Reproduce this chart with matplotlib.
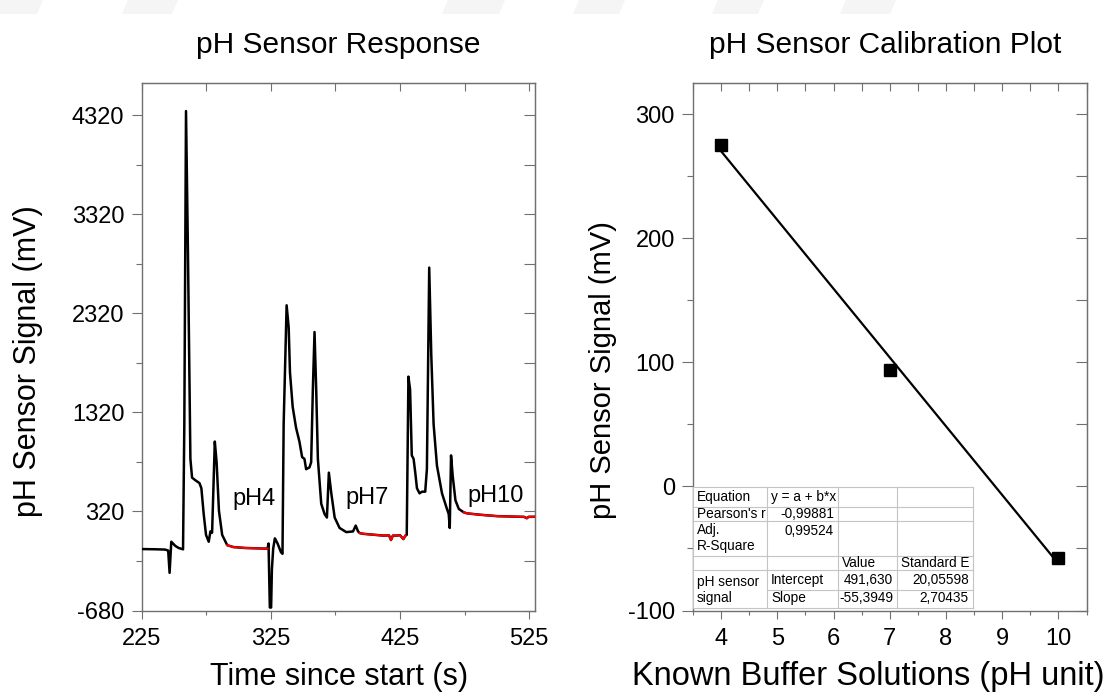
import matplotlib
matplotlib.use("Agg")
import numpy as np
import matplotlib.pyplot as plt
from matplotlib.patches import Rectangle, Polygon
from matplotlib.lines import Line2D

plt.rcParams['font.family'] = ['Liberation Sans', 'DejaVu Sans']
plt.rcParams['axes.unicode_minus'] = False

W, H = 1109, 692

# === Sensor response trace ===
time_s = [225, 235, 243, 245.5, 246.6, 247.9, 251, 253.6, 257, 258, 259.3, 260.8,
          262.7, 264, 266.6, 269.7, 271.2, 273, 274.8, 276.9, 278.2, 279.5, 281.6,
          283, 284.8, 287.3, 291.2, 296, 305, 322.4, 323.2, 324.2, 325.2, 325.8,
          326.8, 328.1, 330.2, 332.8, 334, 334.9, 337.2, 338.8, 339.8, 341.9, 344.5,
          347.1, 349.2, 351, 352.3, 354.9, 356.2, 357.5, 358.8, 360.1, 361.4, 364,
          366.6, 368.4, 369.9, 371.8, 374.4, 378.2, 383.4, 388.6, 390.7, 392.5,
          393.8, 396.4, 412, 416.5, 418, 419.5, 422.4, 425, 427.6, 429.2, 430.2,
          431.5, 432.8, 434.1, 435.5, 436.8, 438.1, 440.1, 442, 444.5, 445.8, 447.6,
          449.2, 451, 453.6, 457.5, 460.9, 462.7, 463.5, 464.5, 465.8, 467.9, 470.5,
          474.4, 477, 487.3, 500.3, 521, 523.2, 524.5, 530]
signal_mv = [-60, -62, -65, -75, -300, 14, -28, -49, -63, 1200, 4360, 2940,
             850, 660, 634, 606, 554, 293, 83, 14, 118, 105, 1025,
             816, 327, 83, -21, -40, -49, -56, -4, -650, -650, -265,
             -56, 48, -4, -91, -108, 1199, 2400, 2176, 1722, 1374, 1164,
             1025, 868, 850, 746, 764, 816, 1548, 2130, 1548, 850, 397,
             293, 258, 711, 502, 258, 153, 111, 118, 177, 118,
             101, 94, 76, 78, 31, 76, 76, 80, 41, 76, 83,
             1680, 1548, 885, 850, 711, 554, 502, 519, 519, 746, 2780,
             1897, 1199, 781, 502, 362, 293, 153, 885, 676, 432, 345,
             310, 300, 286, 272, 265, 251, 265, 266]

# stable windows in each buffer (drawn red)
plateaus = [(291.2, 322.4), (393.8, 429.2), (474.4, 530)]
plateau_names = ["pH4", "pH7", "pH10"]
label_t = [295, 382.5, 477.5]
label_v = [450, 455, 475]

# === Calibration ===
buffer_ph = [4, 7, 10]
buffer_mv = [275, 94, -58]
fit_intercept = 491.630
fit_slope = -55.3949

# fit report table (Origin style)
table_cells = [
    ("Equation", "y = a + b*x", "", ""),
    ("Pearson's r", "-0,99881", "", ""),
    ("Adj.\nR-Square", "0,99524", "", ""),
    ("", "", "Value", "Standard E"),
    ("pH sensor\nsignal", "Intercept", "491,630", "20,05598"),
    ("", "Slope", "-55,3949", "2,70435"),
]

spine_col = "#707070"


def fx(x):
    return x / W


def fy(y):
    return 1 - y / H


def style_axes(ax, xmaj, xmin, ymaj, ymin, ylen):
    for s in ax.spines.values():
        s.set_color(spine_col)
        s.set_linewidth(1.0)
    ax.set_xticks(xmaj)
    ax.set_xticks(xmin, minor=True)
    ax.set_yticks(ymaj)
    ax.set_yticks(ymin, minor=True)
    ax.tick_params(axis="x", which="major", direction="out", length=5.5, width=0.8,
                   color=spine_col, labelsize=17, pad=7)
    ax.tick_params(axis="x", which="minor", direction="out", length=3, width=0.8,
                   color=spine_col)
    ax.tick_params(axis="y", which="major", direction="out", length=ylen, width=0.8,
                   color=spine_col, labelsize=17, pad=5)
    ax.tick_params(axis="y", which="minor", direction="out", length=4, width=0.8,
                   color=spine_col)
    top = ax.secondary_xaxis("top")
    top.set_xticks(xmaj)
    top.set_xticks(xmin, minor=True)
    top.tick_params(which="both", direction="in", length=6, width=0.8,
                    color=spine_col, labeltop=False)
    top.spines["top"].set_color(spine_col)
    right = ax.secondary_yaxis("right")
    right.set_yticks(ymaj)
    right.set_yticks(ymin, minor=True)
    right.tick_params(which="both", direction="in", length=8, width=0.8,
                      color=spine_col, labelright=False)
    right.spines["right"].set_color(spine_col)


fig = plt.figure(figsize=(W / 100, H / 100), dpi=100)

# faint page artefacts at the very top
for x0, x1 in [(0, 43), (128, 178), (448, 505), (579, 625), (718, 764), (846, 896)]:
    fig.add_artist(Polygon([(fx(x0), fy(0)), (fx(x1), fy(0)), (fx(x1 - 6), fy(14)),
                            (fx(x0 - 6), fy(14))], closed=True,
                           transform=fig.transFigure, color="#f5f5f5", lw=0, zorder=0))

# === Left: sensor response ===
ax1 = fig.add_axes([fx(141.7), fy(610.5), fx(535 - 141.7), (610.5 - 83) / H])
t = np.array(time_s)
v = np.array(signal_mv)
ax1.plot(t, v, color="black", lw=1.8, zorder=3)
for (a, b) in plateaus:
    m = (t >= a) & (t <= b)
    ax1.plot(t[m], v[m], color="red", lw=1.5, zorder=4)
for name, lt, lv in zip(plateau_names, label_t, label_v):
    ax1.text(lt, lv, name, fontsize=17, ha="left", va="center")
ax1.set_xlim(225, 529.5)
ax1.set_ylim(-680, 4643)
style_axes(ax1, [225, 325, 425, 525], [275, 375, 475],
           [-680, 320, 1320, 2320, 3320, 4320], [-180, 820, 1820, 2820, 3820], 7.5)

# === Right: calibration ===
ax2 = fig.add_axes([fx(693), fy(610.5), fx(1086.5 - 693), (610.5 - 83) / H])
xf = np.array([buffer_ph[0], buffer_ph[-1]])
ax2.plot(xf, fit_intercept + fit_slope * xf, color="black", lw=1.6, zorder=3)
ax2.plot(buffer_ph, buffer_mv, ls="none", marker="s", ms=8, color="black", zorder=4)
ax2.set_xlim(3.5, 10.5)
ax2.set_ylim(-100, 325)
style_axes(ax2, list(range(4, 11)), list(np.arange(3.5, 10.6, 1.0)),
           [-100, 0, 100, 200, 300], [-50, 50, 150, 250], 8)

# titles and axis labels
fig.text(fx(338.5), fy(53), "pH Sensor Response", fontsize=21.5, ha="center", va="baseline")
fig.text(fx(885), fy(53), "pH Sensor Calibration Plot", fontsize=21.5, ha="center", va="baseline")
fig.text(fx(339.5), fy(685), "Time since start (s)", fontsize=22, ha="center", va="baseline")
fig.text(fx(868), fy(685), "Known Buffer Solutions (pH unit)", fontsize=23.5, ha="center", va="baseline")
fig.text(fx(28), fy(361), "pH Sensor Signal (mV)", fontsize=22, rotation=90, ha="center", va="center")
fig.text(fx(603), fy(370), "pH Sensor Signal (mV)", fontsize=21, rotation=90, ha="center", va="center")

# === Fit table ===
col_x = [693, 767, 838, 897, 973]
row_y = [487, 507, 521, 556, 570, 590, 608]
grid_col = "#c4c4c4"
fig.add_artist(Rectangle((fx(col_x[0]), fy(row_y[-1])), fx(col_x[-1] - col_x[0]),
                         (row_y[-1] - row_y[0]) / H, transform=fig.transFigure,
                         facecolor="white", edgecolor="none", zorder=5))
for i, y in enumerate(row_y):
    x_start = col_x[1] if i == 5 else col_x[0]
    fig.add_artist(Line2D([fx(x_start), fx(col_x[-1])], [fy(y), fy(y)],
                          transform=fig.transFigure, color=grid_col, lw=0.8, zorder=6))
for x in col_x:
    fig.add_artist(Line2D([fx(x), fx(x)], [fy(row_y[0]), fy(row_y[-1])],
                          transform=fig.transFigure, color=grid_col, lw=0.8, zorder=6))

# cell text: row centres, first row of the merged label block spans two rows
row_mid = [497, 514, 538, 563, 580, 598]
for r, cells in enumerate(table_cells):
    for c, txt in enumerate(cells):
        if not txt:
            continue
        ym = row_mid[r]
        if c == 0 and r == 4:
            ym = 590
        if c == 1 and r == 2:
            ym = 531
        numeric = txt[0] in "-0123456789"
        if numeric:
            xpos, ha = col_x[c + 1] - 4, "right"
        else:
            xpos, ha = col_x[c] + 4, "left"
        fig.text(fx(xpos), fy(ym), txt, fontsize=9.8, ha=ha, va="center",
                 linespacing=1.1, zorder=7)

fig.savefig("out.png", dpi=100)
